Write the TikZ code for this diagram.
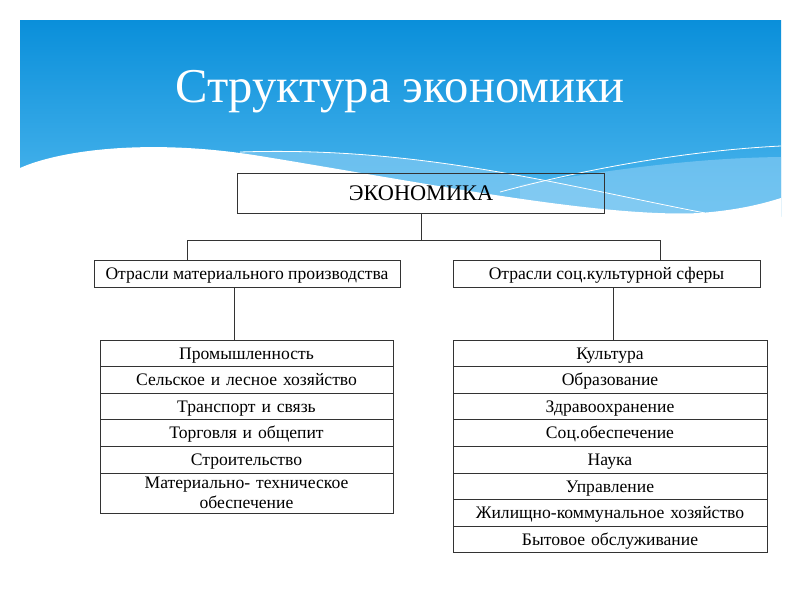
\documentclass[tikz,border=0pt]{standalone}
\usepackage{fontspec}
\setmainfont{Liberation Serif}
\usetikzlibrary{positioning}
\definecolor{skytop}{HTML}{0A8FDA}
\definecolor{skybot}{HTML}{50B8EE}
\definecolor{skylite}{HTML}{8CCEF4}
\definecolor{frame}{HTML}{333333}
\tikzset{
    link/.style = {draw=frame,line width=1pt},
    headbox/.style = {draw=frame,line width=1pt,inner sep=0pt,align=center,
        text height=16pt,text depth=2pt,font=\fontsize{22.3}{24}\selectfont},
    branch/.style = {draw=frame,line width=1pt,inner sep=0pt,align=center,
        minimum height=27pt,text height=15pt,text depth=3.4pt,
        font=\fontsize{17.6}{20}\selectfont},
    rowbase/.style = {draw=frame,line width=1pt,inner xsep=0pt,inner ysep=0pt,
        outer sep=0pt,align=center,minimum height=26.6pt,
        font=\fontsize{17.6}{20}\selectfont},
    rowbox/.style = {rowbase,text height=15pt,text depth=3.4pt}
}
\begin{document}
\begin{tikzpicture}[x=1pt,y=-1pt,node distance=0pt]
        % Slide
        \useasboundingbox (0,0) rectangle (800,600);
        \fill[white] (0,0) rectangle (800,600);
        \shade[top color=skytop,bottom color=skybot] (20,20) rectangle (781,216);
        \fill[skylite,opacity=0.6] (240,152) .. controls (420,146) and (560,185) .. (700,213)
            -- (240,216) -- cycle;
        \fill[skylite,opacity=0.6] (520,185) .. controls (620,168) and (700,158) .. (781,157)
            -- (781,216) -- (520,216) -- cycle;
        \fill[white] (20,168) .. controls (60,150) and (150,138) .. (260,156)
            .. controls (420,182) and (600,218) .. (700,213)
            .. controls (740,210) and (765,203) .. (781,198)
            -- (781,217) -- (20,217) -- cycle;
        \draw[white,line width=0.8pt] (240,152) .. controls (420,146) and (560,185) .. (705,213);
        \draw[white,line width=0.8pt] (500,192) .. controls (600,165) and (700,150) .. (781,146);
        % Title
        \node[text=white,font=\fontsize{48.6}{54}\selectfont] (ttl) at (400,92)
            {Структура экономики};
        % Levels
        \node[headbox,minimum width=367pt,minimum height=40pt] (eco) at (421,193) {ЭКОНОМИКА};
        \node[branch,minimum width=306pt] (matl) at (247,273.5)
            {Отрасли материального производства};
        \node[branch,minimum width=307pt] (soc) at (606.5,273.5)
            {Отрасли соц.культурной сферы};
        % Material branches
        \node[rowbox,text width=293pt,anchor=north] (m1) at (246.5,340) {Промышленность};
        \node[rowbox,text width=293pt,below=of m1] (m2) {Сельское и лесное хозяйство};
        \node[rowbox,text width=293pt,below=of m2] (m3) {Транспорт и связь};
        \node[rowbox,text width=293pt,below=of m3] (m4) {Торговля и общепит};
        \node[rowbox,text width=293pt,below=of m4] (m5) {Строительство};
        \node[rowbase,text width=293pt,below=of m5,minimum height=40pt] (m6)
            {Материально- техническое\\обеспечение};
        % Social branches
        \node[rowbox,text width=314pt,anchor=north] (s1) at (610,340) {Культура};
        \node[rowbox,text width=314pt,below=of s1] (s2) {Образование};
        \node[rowbox,text width=314pt,below=of s2] (s3) {Здравоохранение};
        \node[rowbox,text width=314pt,below=of s3] (s4) {Соц.обеспечение};
        \node[rowbox,text width=314pt,below=of s4] (s5) {Наука};
        \node[rowbox,text width=314pt,below=of s5] (s6) {Управление};
        \node[rowbox,text width=314pt,below=of s6] (s7) {Жилищно-коммунальное хозяйство};
        \node[rowbox,text width=314pt,below=of s7] (s8) {Бытовое обслуживание};
        % Connectors
        \coordinate (barL) at (187,240);
        \coordinate (barR) at (660,240);
        \coordinate (dropL) at (234,0);
        \coordinate (dropR) at (613,0);
        \draw[link] (barL) -- (barR);
        \draw[link] (eco.south) -- (eco.south |- barL);
        \foreach \src/\dest in {barL/matl,barR/soc}
            \draw[link] (\src) -- (\src |- \dest.north);
        \foreach \src/\dest/\via in {matl/m1/dropL,soc/s1/dropR}
            \draw[link] (\src.south -| \via) -- (\dest.north -| \via);
\end{tikzpicture}
\end{document}
